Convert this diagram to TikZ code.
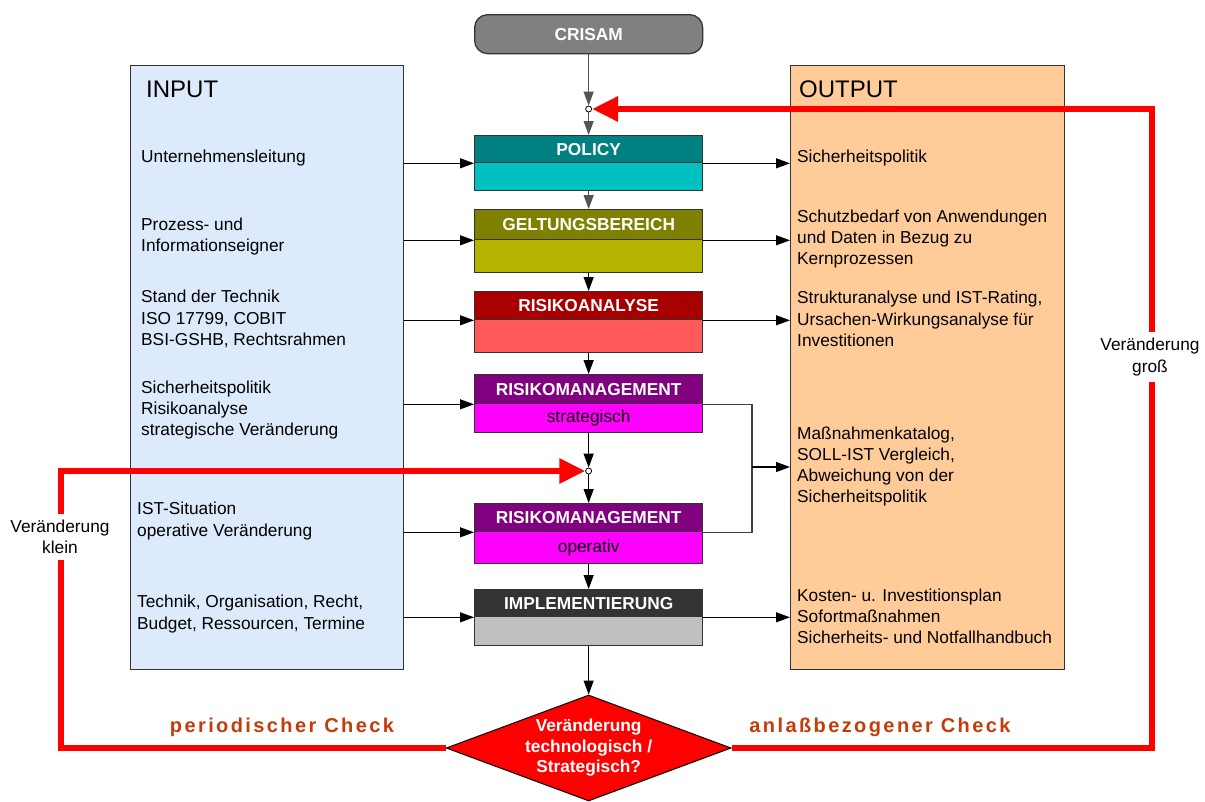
\documentclass[tikz,border=0pt]{standalone}
\usepackage{fontspec}
\setmainfont{Liberation Sans}
\newfontfamily\checkfont[LetterSpace=12]{Liberation Sans}
\usetikzlibrary{arrows.meta,shapes.geometric}
\definecolor{inblue}{HTML}{DCEAFB}
\definecolor{outorange}{HTML}{FFCC99}
\definecolor{crisgray}{HTML}{808080}
\definecolor{polT}{HTML}{008080}
\definecolor{polB}{HTML}{00C0C0}
\definecolor{gelT}{HTML}{808000}
\definecolor{gelB}{HTML}{B3B300}
\definecolor{risT}{HTML}{A80000}
\definecolor{risB}{HTML}{FF5959}
\definecolor{rmT}{HTML}{800080}
\definecolor{rmB}{HTML}{FF00FF}
\definecolor{imT}{HTML}{333333}
\definecolor{imB}{HTML}{C0C0C0}
\definecolor{pured}{HTML}{FF0000}
\definecolor{checkc}{HTML}{C43C0A}
\definecolor{arrgray}{HTML}{555555}
\pgfdeclarelayer{front}
\pgfsetlayers{main,front}
\begin{document}
\begin{tikzpicture}[x=1pt,y=-1pt, font=\fontsize{17.3}{21.3}\selectfont,
  boxline/.style={draw=black!80, line width=1.3pt},
  side/.style={boxline, anchor=north west, inner sep=0},
  head/.style={boxline, anchor=north west, minimum width=228pt, inner sep=0, text=white, font=\fontsize{17.3}{20}\selectfont\bfseries},
  sub/.style={boxline, anchor=north west, minimum width=228pt, inner sep=0},
  txt/.style={anchor=west, align=left, inner sep=0},
  arr/.style={-{Triangle[length=14pt,width=10pt]}, line width=1.2pt, draw=black},
  garr/.style={arr, draw=arrgray},
  redline/.style={draw=pured, line width=6pt},
  redarr/.style={-{Triangle[length=26pt,width=24pt]}},
  jct/.style={circle, draw=black, fill=white, line width=0.8pt, inner sep=0, minimum size=6pt},
  checklbl/.style={text=checkc, font=\fontsize{20}{24}\selectfont\checkfont\bfseries, inner sep=0},
  sidelbl/.style={align=center, inner xsep=0, inner ysep=6pt}]
\useasboundingbox (0,0) rectangle (1205,801);
\fill[white] (0,0) rectangle (1205,801);

% side boxes
\node[side, fill=inblue, minimum width=273pt, minimum height=604pt] (input) at (130,65) {};
\node[side, fill=outorange, minimum width=274pt, minimum height=604pt] (output) at (790,65) {};
\node[anchor=west, inner sep=0, font=\fontsize{24}{28}\selectfont] (inlabel) at (146,89.5) {INPUT};
\node[anchor=west, inner sep=0, font=\fontsize{24}{28}\selectfont] (outlabel) at (799,89.5) {OUTPUT};

% input texts
\node[txt] (in1) at (141,158) {Unternehmensleitung};
\node[txt] (in2) at (141,236.5) {Prozess- und\\Informationseigner};
\node[txt] (in3) at (141,319) {Stand der Technik\\ISO 17799, COBIT\\BSI-GSHB, Rechtsrahmen};
\node[txt] (in4) at (141,410) {Sicherheitspolitik\\Risikoanalyse\\strategische Veränderung};
\node[txt] (in5) at (137,521) {IST-Situation\\operative Veränderung};
\node[txt] (in6) at (137,614) {Technik, Organisation, Recht,\\Budget, Ressourcen, Termine};

% output texts
\node[txt] (out1) at (797,158) {Sicherheitspolitik};
\node[txt] (out2) at (797,239) {Schutzbedarf von Anwendungen\\und Daten in Bezug zu\\Kernprozessen};
\node[txt] (out3) at (797,319) {Strukturanalyse und IST-Rating,\\Ursachen-Wirkungsanalyse für\\Investitionen};
\node[txt] (out4) at (797,466.5) {Maßnahmenkatalog,\\SOLL-IST Vergleich,\\Abweichung von der\\Sicherheitspolitik};
\node[txt] (out5) at (797,616.5) {Kosten- u. Investitionsplan\\Sofortmaßnahmen\\Sicherheits- und Notfallhandbuch};

% central column
\node[boxline, fill=crisgray, rounded corners=13pt, minimum width=228pt, minimum height=39pt, anchor=north west, inner sep=0, text=white, font=\fontsize{17.3}{20}\selectfont\bfseries] (crisam) at (474,14) {CRISAM};

\node[head, fill=polT, minimum height=27pt] (policyT) at (474,135) {POLICY};
\node[sub, fill=polB, minimum height=28pt] (policyB) at (474,162) {};
\node[head, fill=gelT, minimum height=30pt] (geltT) at (474,209) {GELTUNGSBEREICH};
\node[sub, fill=gelB, minimum height=33pt] (geltB) at (474,239) {};
\node[head, fill=risT, minimum height=28pt] (risT) at (474,291) {RISIKOANALYSE};
\node[sub, fill=risB, minimum height=33pt] (risB) at (474,319) {};
\node[head, fill=rmT, minimum height=29pt] (rmsT) at (474,374) {RISIKOMANAGEMENT};
\node[sub, fill=rmB, minimum height=29pt] (rmsB) at (474,403) {strategisch};
\node[head, fill=rmT, minimum height=28pt] (rmoT) at (474,503) {RISIKOMANAGEMENT};
\node[sub, fill=rmB, minimum height=32pt] (rmoB) at (474,531) {operativ};
\node[head, fill=imT, minimum height=27pt] (implT) at (474,589) {IMPLEMENTIERUNG};
\node[sub, fill=imB, minimum height=29pt] (implB) at (474,616) {};

\node[diamond, draw=black, line width=1pt, fill=pured, minimum width=285pt, minimum height=106pt, inner sep=0] (dia) at (implB.south |- 0,748) {};
\node[text=white, align=center, inner sep=0, font=\fontsize{17.3}{20.5}\selectfont\bfseries] (diatext) at (dia.center) {Veränderung\\technologisch /\\Strategisch?};

% junctions (on front layer)
\begin{pgfonlayer}{front}
\node[jct] (j1) at (crisam.south |- 0,109) {};
\node[jct] (j2) at (rmsB.south |- 0,471) {};
\end{pgfonlayer}

% vertical flow
\draw[garr] (crisam.south) -- (j1);
\draw[garr] (j1) -- (policyT.north);
\draw[garr] (policyB.south) -- (geltT.north);
\draw[arr] (geltB.south) -- (risT.north);
\draw[arr] (risB.south) -- (rmsT.north);
\draw[arr] (rmsB.south) -- (j2);
\draw[arr] (j2) -- (rmoT.north);
\draw[arr] (rmoB.south) -- (implT.north);
\draw[arr] (implB.south) -- (dia.north);

% inputs
\draw[arr] (input.east |- policyT.south west) -- (policyT.south west);
\draw[arr] (input.east |- geltT.south west) -- (geltT.south west);
\draw[arr] (input.east |- risT.south west) -- (risT.south west);
\draw[arr] (input.east |- rmsT.south west) -- (rmsT.south west);
\draw[arr] (input.east |- rmoT.south west) -- (rmoT.south west);
\draw[arr] (input.east |- implT.south west) -- (implT.south west);

% outputs
\draw[arr] (policyT.south east) -- (output.west |- policyT.south east);
\draw[arr] (geltT.south east) -- (output.west |- geltT.south east);
\draw[arr] (risT.south east) -- (output.west |- risT.south east);
\draw[arr] (implT.south east) -- (output.west |- implT.south east);
\coordinate (br) at (752,467);
\draw[line width=1.2pt, draw=black!75] (rmsT.south east) -| (br) |- (rmoT.south east);
\draw[arr] (br) -- (output.west |- br);

% check labels
\node[checklbl] (periodic) at (282,727) {periodischer Check};
\node[checklbl] (anlass) at (880,727) {anlaßbezogener Check};

% red feedback loops
\node[sidelbl] (gross) at (1150,357) {Veränderung\\groß};
\node[sidelbl] (klein) at (60,537) {Veränderung\\klein};
\coordinate (rc) at (1152,748);
\coordinate (lc) at (61,748);
\draw[redline] (dia.east) -- (rc |- dia.east) -- (rc |- gross.south);
\draw[redline, redarr] (rc |- gross.north) -- (rc |- j1) -- (j1);
\draw[redline] (dia.west) -- (lc |- dia.west) -- (lc |- klein.south);
\draw[redline, redarr] (lc |- klein.north) -- (lc |- j2) -- (j2);
\end{tikzpicture}
\end{document}
